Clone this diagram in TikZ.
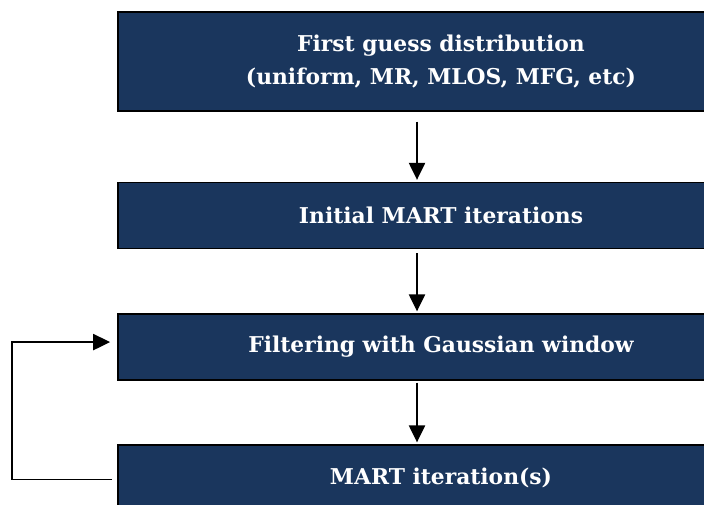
\documentclass[tikz,border=0pt]{standalone}
\usepackage{fontspec}
\setmainfont{DejaVu Serif}
\usepackage{tikz}
\usetikzlibrary{arrows.meta,positioning,calc}
\definecolor{navy}{RGB}{26,54,93}

\begin{document}
\begin{tikzpicture}[
    x=0.025cm, y=-0.025cm,
    stage/.style={draw=black, line width=1.1pt, fill=navy, text=white, minimum width=16.15cm, minimum height=1.64cm, align=center, font=\fontsize{15.5}{23.5}\selectfont\bfseries},
    arr/.style={-{Triangle[length=12pt, width=11.5pt]}, line width=1pt, black}
]
\clip (0,0) rectangle (704,505);
\node[stage, minimum height=2.475cm] (guess) at (441,61.5) {First guess distribution\\(uniform, MR, MLOS, MFG, etc)};
\node[stage] (init) at (441,215.5) {Initial MART iterations};
\node[stage] (filt) at (441,347) {Filtering with Gaussian window};
\node[stage] (mart) at (441,478) {MART iteration(s)};

\coordinate (ax) at (417,0);
\coordinate (loopx) at (12,0);

\draw[arr, shorten <=7pt, shorten >=1.5pt] (guess.south -| ax) -- (init.north -| ax);
\draw[arr, shorten <=3pt, shorten >=1.5pt] (init.south -| ax) -- (filt.north -| ax);
\draw[arr, shorten <=1.5pt, shorten >=1.5pt] (filt.south -| ax) -- (mart.north -| ax);
\draw[arr, shorten <=3.5pt, shorten >=5pt] ([yshift=-1pt]mart.west) -- ([yshift=-1pt]mart.west -| loopx) |- ([yshift=3.5pt]filt.west);
\end{tikzpicture}
\end{document}
